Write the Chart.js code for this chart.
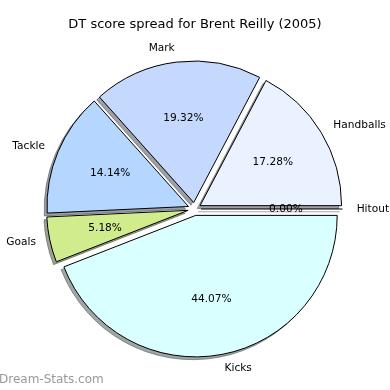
<!DOCTYPE html>
<html><head><meta charset="utf-8">
<script src="https://cdn.jsdelivr.net/npm/chart.js@4/dist/chart.umd.min.js"></script>
<style>html,body{margin:0;padding:0;background:#fff}canvas{display:block}</style>
</head><body>
<canvas id="c" width="390" height="390"></canvas>
<script>
const chartTitle = 'DT score spread for Brent Reilly (2005)';
const categories = ['Handballs', 'Mark', 'Tackle', 'Goals', 'Kicks', 'Hitout'];
const percentages = [17.28, 19.32, 14.14, 5.18, 44.07, 0.00];
const sliceColors = ['#eaf1ff', '#c5d9ff', '#b4d6ff', '#d0ec8c', '#d9ffff', '#ffffff'];
const watermark = 'Dream-Stats.com';

// matplotlib draws counter-clockwise from east; Chart.js clockwise -> reverse order
const drawOrder = [4, 3, 2, 1, 0, 5];
const labelsCW = drawOrder.map(i => categories[i]);
const valuesCW = drawOrder.map(i => percentages[i]);
const colorsCW = drawOrder.map(i => sliceColors[i]);

const EXPLODE = 6.5, RADIUS = 141.5, SHADOW = 2.8;
const FONT = "'DejaVu Sans', sans-serif";

function hexToRgb(h) {
  const n = parseInt(h.slice(1), 16);
  return [(n >> 16) & 255, (n >> 8) & 255, n & 255];
}

function drawSlice(ctx, el, fill, stroke) {
  if (el.circumference === 0) {
    ctx.beginPath();
    ctx.moveTo(el.x, el.y);
    ctx.lineTo(el.x + Math.cos(el.startAngle) * el.outerRadius, el.y + Math.sin(el.startAngle) * el.outerRadius);
    ctx.strokeStyle = stroke;
    ctx.lineWidth = 1;
    ctx.stroke();
    return;
  }
  const fake = Object.create(el);
  fake.options = Object.assign({}, el.options, {backgroundColor: fill, borderColor: stroke});
  el.draw.call(fake, ctx);
}

const mplPie = {
  id: 'mplPie',
  beforeDatasetsDraw(chart) {
    const ctx = chart.ctx;
    const arcs = chart.getDatasetMeta(0).data;
    arcs.forEach((el, i) => {
      const mid = (el.startAngle + el.endAngle) / 2;
      const rgb = hexToRgb(colorsCW[i]).map(v => Math.round(v * 0.3));
      const c = 'rgba(' + rgb.join(',') + ',0.5)';
      ctx.save();
      ctx.translate(Math.cos(mid) * EXPLODE - SHADOW, Math.sin(mid) * EXPLODE + SHADOW);
      drawSlice(ctx, el, c, c);
      ctx.restore();
    });
    arcs.forEach((el, i) => {
      const mid = (el.startAngle + el.endAngle) / 2;
      ctx.save();
      ctx.translate(Math.cos(mid) * EXPLODE, Math.sin(mid) * EXPLODE);
      drawSlice(ctx, el, colorsCW[i], '#000000');
      ctx.restore();
    });
    return false;
  },
  afterDraw(chart) {
    const ctx = chart.ctx;
    const arcs = chart.getDatasetMeta(0).data;
    ctx.save();
    ctx.fillStyle = '#000';
    ctx.font = '10.6px ' + FONT;
    ctx.textBaseline = 'middle';
    arcs.forEach((el, i) => {
      const mid = (el.startAngle + el.endAngle) / 2;
      const ux = Math.cos(mid), uy = Math.sin(mid);
      const lx = el.x + ux * (EXPLODE + 1.1 * el.outerRadius);
      const ly = el.y + uy * (EXPLODE + 1.1 * el.outerRadius);
      ctx.textAlign = ux > 0 ? 'left' : 'right';
      ctx.fillText(labelsCW[i], lx, ly);
      const px = el.x + ux * (EXPLODE + 0.6 * el.outerRadius);
      const py = el.y + uy * (EXPLODE + 0.6 * el.outerRadius);
      ctx.textAlign = 'center';
      ctx.fillText(valuesCW[i].toFixed(2) + '%', px, py);
    });
    ctx.font = '13px ' + FONT;
    ctx.textAlign = 'center';
    ctx.fillText(chartTitle, 195, 25);
    ctx.font = '12px ' + FONT;
    ctx.fillStyle = '#999';
    ctx.textAlign = 'left';
    ctx.fillText(watermark, -1, 380);
    ctx.restore();
  }
};

new Chart(document.getElementById('c'), {
  type: 'pie',
  data: {
    labels: labelsCW,
    datasets: [{
      data: valuesCW,
      backgroundColor: colorsCW,
      borderColor: '#000',
      borderWidth: 1,
      borderJoinStyle: 'miter',
      offset: 0,
      hoverOffset: 0
    }]
  },
  options: {
    responsive: false,
    animation: false,
    events: [],
    rotation: 90,
    radius: RADIUS,
    layout: {padding: {top: 29, bottom: 1, left: 0, right: 1}},
    plugins: {legend: {display: false}, title: {display: false}, tooltip: {enabled: false}}
  },
  plugins: [mplPie]
});
</script>
</body></html>
